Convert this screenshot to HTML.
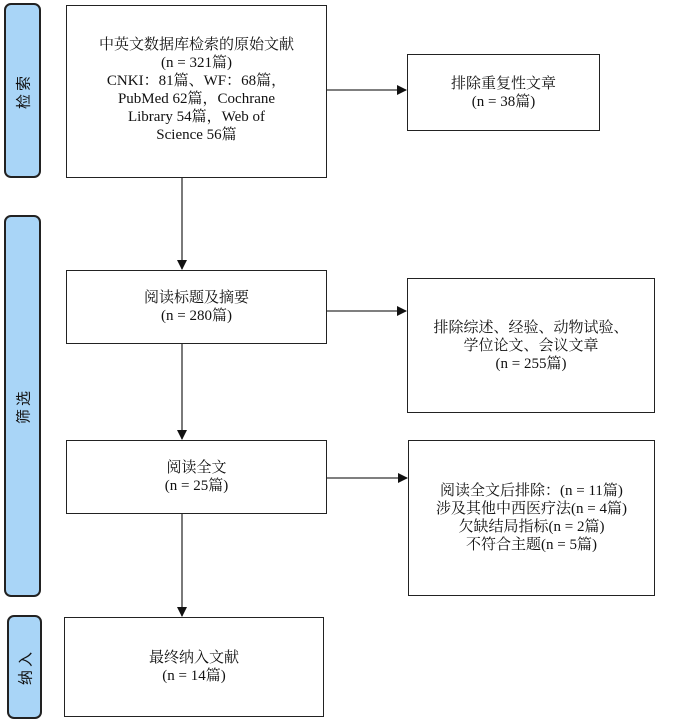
<!DOCTYPE html>
<html><head><meta charset="utf-8"><style>
body{margin:0;width:685px;height:722px;background:#fff;position:relative;overflow:hidden;font-family:"Liberation Serif","Noto Serif CJK SC",serif;font-size:15px;color:#111}
.b{position:absolute;border:1.5px solid #222;box-sizing:border-box;display:flex;align-items:center;justify-content:center;text-align:center;line-height:18px;background:#fff}
.t{position:absolute;background:#a9d5f7;border:2px solid #222;border-radius:7px;box-sizing:border-box}
.t span{position:absolute;left:50%;top:50%;transform:translate(-50%,-50%) rotate(-90deg);white-space:nowrap;font-family:"Liberation Sans","Noto Sans CJK SC",sans-serif;font-size:15px;letter-spacing:3px}
svg{position:absolute;left:0;top:0}
</style></head><body>
<div class="t" style="left:4px;top:3px;width:37px;height:175px"><span>检索</span></div>
<div class="t" style="left:4px;top:215px;width:37px;height:382px"><span>筛选</span></div>
<div class="t" style="left:7px;top:615px;width:35px;height:104px"><span>纳入</span></div>
<div class="b" style="left:66px;top:5px;width:261px;height:173px;padding-bottom:4px">中英文数据库检索的原始文献<br>(n = 321篇)<br>CNKI：81篇、WF：68篇，<br>PubMed 62篇，Cochrane<br>Library 54篇，Web of<br>Science 56篇</div>
<div class="b" style="left:407px;top:54px;width:193px;height:77px">排除重复性文章<br>(n = 38篇)</div>
<div class="b" style="left:66px;top:270px;width:261px;height:74px">阅读标题及摘要<br>(n = 280篇)</div>
<div class="b" style="left:407px;top:278px;width:248px;height:135px">排除综述、经验、动物试验、<br>学位论文、会议文章<br>(n = 255篇)</div>
<div class="b" style="left:66px;top:440px;width:261px;height:74px">阅读全文<br>(n = 25篇)</div>
<div class="b" style="left:408px;top:440px;width:247px;height:156px">阅读全文后排除：(n = 11篇)<br>涉及其他中西医疗法(n = 4篇)<br>欠缺结局指标(n = 2篇)<br>不符合主题(n = 5篇)</div>
<div class="b" style="left:64px;top:617px;width:260px;height:100px">最终纳入文献<br>(n = 14篇)</div>
<svg width="685" height="722">
<defs><marker id="a" markerWidth="10" markerHeight="10" refX="9" refY="5" orient="auto" markerUnits="userSpaceOnUse"><path d="M0,0L10,5L0,10z" fill="#111"/></marker></defs>
<g stroke="#333" stroke-width="1.3" fill="none">
<line x1="182" y1="178" x2="182" y2="269" marker-end="url(#a)"/>
<line x1="182" y1="344" x2="182" y2="439" marker-end="url(#a)"/>
<line x1="182" y1="514" x2="182" y2="616" marker-end="url(#a)"/>
<line x1="327" y1="90" x2="406" y2="90" marker-end="url(#a)"/>
<line x1="327" y1="311" x2="406" y2="311" marker-end="url(#a)"/>
<line x1="327" y1="478" x2="407" y2="478" marker-end="url(#a)"/>
</g></svg>
</body></html>
